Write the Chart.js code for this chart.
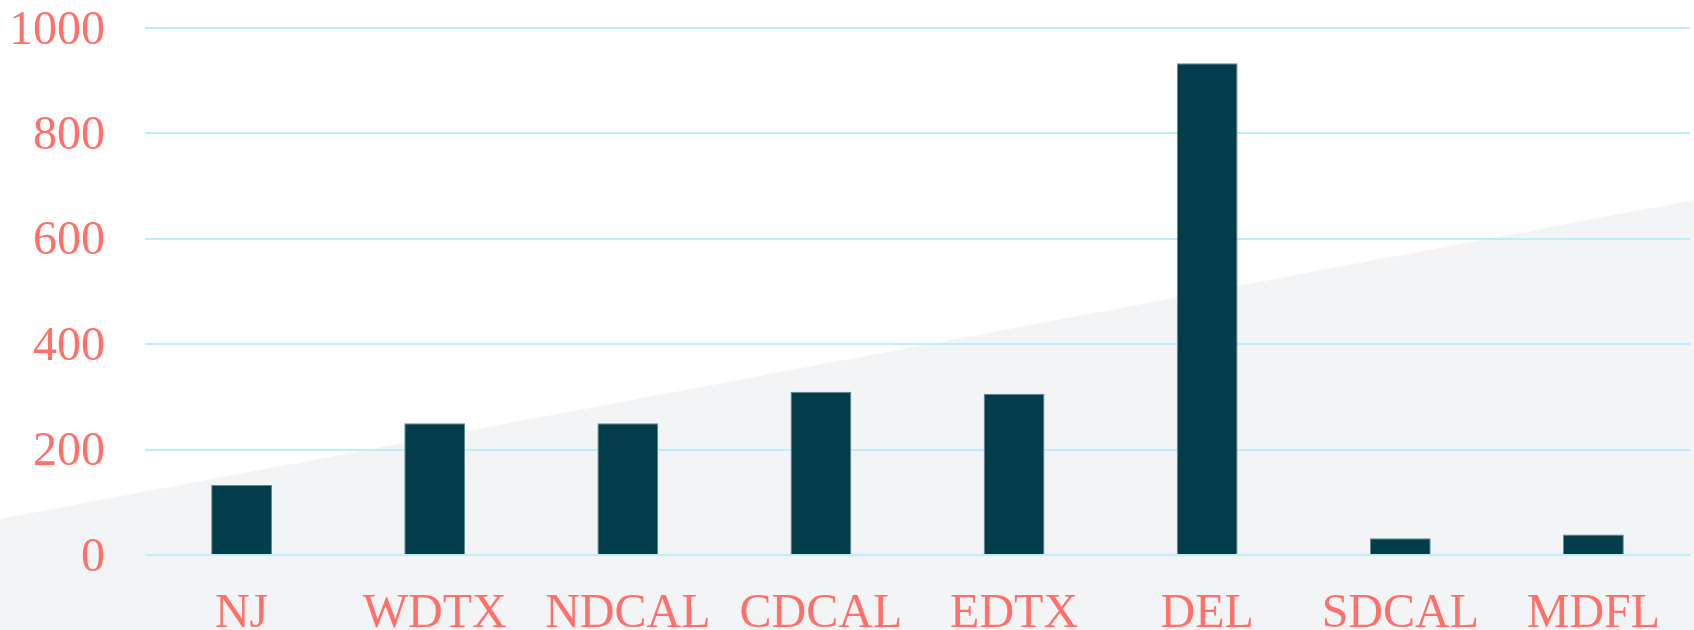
<!DOCTYPE html>
<html lang="en">
<head>
    <meta charset="UTF-8">
    <title>Cases by district</title>
    <script src="https://cdn.jsdelivr.net/npm/chart.js@4.4.0/dist/chart.umd.min.js"></script>
    <style>
        html, body {
            margin: 0;
            padding: 0;
            background: #ffffff;
            overflow: hidden;
        }
        /* light grey diagonal band behind the chart */
        #bg {
            position: absolute;
            left: 0; top: 0;
            width: 1694px; height: 630px;
            background: #f3f4f6;
            clip-path: polygon(0 519px, 1694px 200px, 1694px 630px, 0 630px);
        }
        #chart-container {
            position: absolute;
            left: 0; top: 0;
            width: 1694px;
            height: 630px;
        }
    </style>
</head>
<body>
    <div id="bg"></div>
    <div id="chart-container">
        <canvas id="districtChart"></canvas>
    </div>

    <script>
        // data
        const districts = ['NJ', 'WDTX', 'NDCAL', 'CDCAL', 'EDTX', 'DEL', 'SDCAL', 'MDFL'];
        const caseCounts = [133, 250, 250, 310, 306, 933, 32, 39];
        const yTicks = [0, 200, 400, 600, 800, 1000];

        const labelColor = '#ff706a';
        const labelFont = { family: '"Liberation Serif", "Times New Roman", serif', size: 48, lineHeight: 1 };

        const ctx = document.getElementById('districtChart').getContext('2d');
        new Chart(ctx, {
            type: 'bar',
            data: {
                labels: districts,
                datasets: [{
                    data: caseCounts,
                    backgroundColor: '#033c4b',
                    borderColor: '#5f8794',
                    borderWidth: 1,
                    barPercentage: 0.315,
                    categoryPercentage: 1
                }]
            },
            options: {
                responsive: true,
                maintainAspectRatio: false,
                animation: false,
                // negative padding pulls the axis boxes to the reference positions
                layout: { padding: { top: 28, left: -31, right: 4, bottom: -43 } },
                plugins: {
                    legend: { display: false },
                    tooltip: { enabled: false }
                },
                scales: {
                    x: {
                        grid: { display: false, drawTicks: false },
                        border: { display: false },
                        ticks: { color: labelColor, font: labelFont, padding: 35, maxRotation: 0, autoSkip: false },
                        afterFit: s => { s.paddingLeft = 0; s.paddingRight = 0; }
                    },
                    y: {
                        min: 0,
                        max: 1000,
                        afterBuildTicks: axis => { axis.ticks = yTicks.map(v => ({ value: v })); },
                        grid: { color: '#bfeefa', lineWidth: 2, drawTicks: false },
                        border: { display: false },
                        ticks: { color: labelColor, font: labelFont, padding: 40, labelOffset: 3, callback: v => String(v) },
                        afterFit: s => { s.paddingTop = 0; s.paddingBottom = 0; }
                    }
                }
            }
        });
    </script>
</body>
</html>
